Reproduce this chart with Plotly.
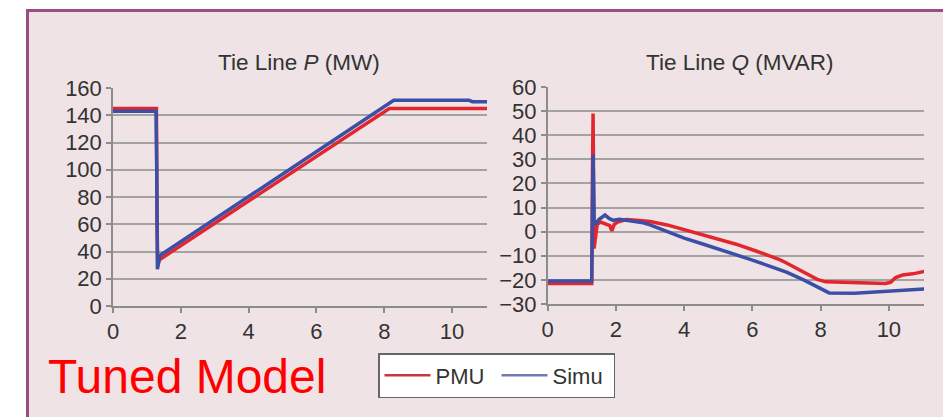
import plotly.graph_objects as go

# The page has an 8px body margin, so the figure is 943x409 placed at (8, 8)
OFF = 8
FW, FH = 943, 409

# ---- data ----
t_p_pmu = [0, 1.28, 1.30, 1.32, 1.37, 8.15, 11.05]
p_pmu = [145, 145, 60, 30, 34, 145, 145]

t_p_simu = [0, 1.27, 1.29, 1.31, 1.33, 1.38, 8.28, 10.5, 10.6, 11.05]
p_simu = [143, 143, 100, 27, 30, 37, 151, 151, 150, 150]

t_q_pmu = [0, 1.29, 1.31, 1.33, 1.36, 1.40, 1.45, 1.55, 1.65, 1.75, 1.82, 1.88, 1.95,
           2.05, 2.3, 2.6, 3.0, 3.5, 4.0, 4.5, 5.0, 5.5, 6.0, 6.5, 6.8, 7.0, 7.3, 7.6,
           7.9, 8.15, 8.6, 9.0, 9.5, 9.9, 10.05, 10.2, 10.4, 10.7, 11.05]
q_pmu = [-21.5, -21.5, 20, 49, -7, -2, 3, 4, 3.5, 3, 2.5, 0.3, 3,
         4, 5, 4.7, 4.2, 2.8, 0.9, -1.2, -3.1, -5.1, -7.5, -10.0, -11.6, -13, -15.3, -17.6,
         -19.8, -20.8, -21, -21, -21.5, -21.5, -21, -19, -18, -17.5, -16.5]

t_q_simu = [0, 1.29, 1.31, 1.33, 1.36, 1.40, 1.5, 1.68, 1.8, 1.92, 2.1, 2.3, 2.8,
            3.0, 3.5, 4.0, 4.5, 5.0, 5.5, 6.0, 6.5, 7.0, 7.5, 8.0, 8.25, 9.0, 9.5,
            10.0, 10.5, 11.05]
q_simu = [-20.5, -20.5, 5, 32, 5, 3, 5, 6.9, 5.5, 4.7, 5.1, 4.8, 3.7,
          2.8, 0.0, -2.7, -4.9, -7.1, -9.3, -11.8, -14.3, -16.8, -20, -23.5, -25.4, -25.5, -25,
          -24.5, -24.3, -23.8]

p_ticks = [0, 20, 40, 60, 80, 100, 120, 140, 160]
q_ticks = [-30, -20, -10, 0, 10, 20, 30, 40, 50, 60]
x_ticks = [0, 2, 4, 6, 8, 10]

RED = "#e3262d"
BLUE = "#3c4fa6"
PINK = "#efe3e6"
BORDER = "#9b4d7d"
FONT = "Liberation Sans, Arial, sans-serif"


def px(x):
    return (x - OFF) / FW


def py(y):
    return 1 - (y - OFF) / FH


fig = go.Figure()
fig.add_trace(go.Scatter(x=t_p_pmu, y=p_pmu, mode="lines", name="PMU",
                         line=dict(color=RED, width=3.5), xaxis="x", yaxis="y",
                         showlegend=False))
fig.add_trace(go.Scatter(x=t_p_simu, y=p_simu, mode="lines", name="Simu",
                         line=dict(color=BLUE, width=3.5), xaxis="x", yaxis="y",
                         showlegend=False))
fig.add_trace(go.Scatter(x=t_q_pmu, y=q_pmu, mode="lines", name="PMU",
                         line=dict(color=RED, width=3.5), xaxis="x2", yaxis="y2",
                         showlegend=False))
fig.add_trace(go.Scatter(x=t_q_simu, y=q_simu, mode="lines", name="Simu",
                         line=dict(color=BLUE, width=3.5), xaxis="x2", yaxis="y2",
                         showlegend=False))
# legend entries (same series, legend-style line samples)
fig.add_trace(go.Scatter(x=[None], y=[None], mode="lines", name="PMU",
                         line=dict(color="#c63840", width=2.5), xaxis="x", yaxis="y"))
fig.add_trace(go.Scatter(x=[None], y=[None], mode="lines", name="Simu",
                         line=dict(color="#7479b6", width=2.5), xaxis="x", yaxis="y"))

axis_common = dict(
    showline=True, linecolor="#8c8c8c", linewidth=1.5,
    ticks="outside", ticklen=5, tickcolor="#8c8c8c", tickwidth=1.5,
    tickfont=dict(family=FONT, size=22, color="#333333"),
    zeroline=False, automargin=False,
)

fig.update_layout(
    width=FW, height=FH,
    margin=dict(l=0, r=0, t=0, b=0, pad=0, autoexpand=False),
    paper_bgcolor="white",
    plot_bgcolor="white",
    font=dict(family=FONT, color="#333333"),
    xaxis=dict(domain=[px(113), px(487)], range=[0, 11.03], tickvals=x_ticks,
               showgrid=False, anchor="y", **axis_common),
    yaxis=dict(domain=[py(306), py(88)], range=[0, 160], tickvals=p_ticks,
               showgrid=True, gridcolor="#a3a3a3", gridwidth=1.5, anchor="x",
               **axis_common),
    xaxis2=dict(domain=[px(547.7), px(924)], range=[0, 11.03], tickvals=x_ticks,
                showgrid=False, anchor="y2", **axis_common),
    yaxis2=dict(domain=[py(304), py(87)], range=[-30, 60], tickvals=q_ticks,
                showgrid=True, gridcolor="#a3a3a3", gridwidth=1.5, anchor="x2",
                **axis_common),
    showlegend=True,
    legend=dict(orientation="h", x=px(378), y=py(353), xanchor="left", yanchor="top",
                bgcolor="white", bordercolor="#666666", borderwidth=1.5,
                font=dict(family=FONT, size=22, color="#333333"),
                itemwidth=46, tracegroupgap=0, entrywidth=56),
    shapes=[
        dict(type="rect", xref="paper", yref="paper", x0=px(27.5), x1=px(990),
             y0=py(440), y1=py(10.5), fillcolor=PINK, line=dict(color=BORDER, width=3),
             layer="below"),
    ],
    annotations=[
        dict(text="Tie Line <i>P</i> (MW)", xref="paper", yref="paper",
             x=px(299), y=py(62), xanchor="center", yanchor="middle", showarrow=False,
             font=dict(family=FONT, size=22.5, color="#333333")),
        dict(text="Tie Line <i>Q</i> (MVAR)", xref="paper", yref="paper",
             x=px(740), y=py(62), xanchor="center", yanchor="middle", showarrow=False,
             font=dict(family=FONT, size=22.5, color="#333333")),
        dict(text="Tuned Model", xref="paper", yref="paper",
             x=px(46), y=py(376), xanchor="left", yanchor="middle", showarrow=False,
             font=dict(family=FONT, size=48, color="#ff0000")),
    ],
)

fig.write_html("out.html")
